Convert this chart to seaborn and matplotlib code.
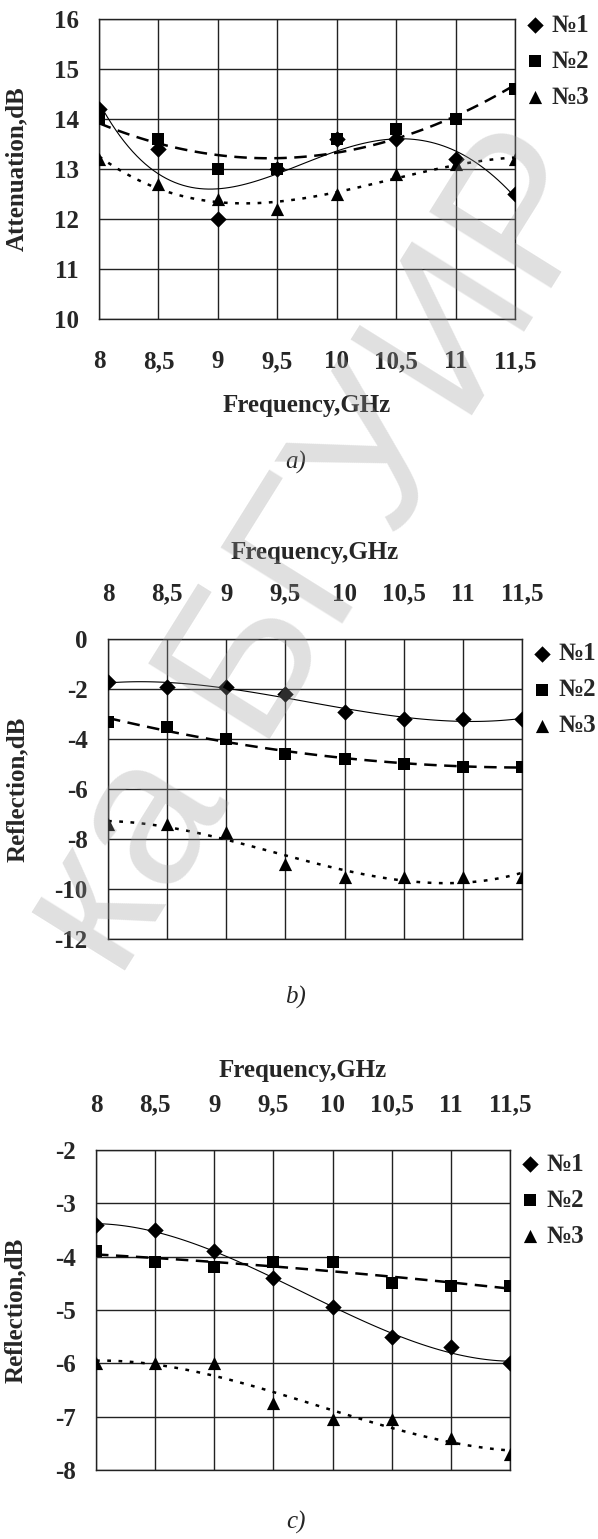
import seaborn as sns
import matplotlib.pyplot as plt

# частоты и подписи оси X
freq = [8, 8.5, 9, 9.5, 10, 10.5, 11, 11.5]
freq_labels = ['8', '8,5', '9', '9,5', '10', '10,5', '11', '11,5']
samples = ['№1', '№2', '№3']

# a) ослабление, дБ
att_1 = [14.2, 13.4, 12.0, 13.0, 13.6, 13.6, 13.2, 12.5]
att_2 = [14.0, 13.6, 13.0, 13.0, 13.6, 13.8, 14.0, 14.6]
att_3 = [13.2, 12.7, 12.4, 12.2, 12.5, 12.9, 13.1, 13.2]

# b) отражение, дБ
refl_b_1 = [-1.7, -1.9, -1.9, -2.2, -2.9, -3.2, -3.2, -3.2]
refl_b_2 = [-3.3, -3.5, -4.0, -4.6, -4.8, -5.0, -5.1, -5.1]
refl_b_3 = [-7.4, -7.4, -7.7, -9.0, -9.5, -9.5, -9.5, -9.5]

# c) отражение, дБ
refl_c_1 = [-3.4, -3.5, -3.9, -4.4, -4.95, -5.5, -5.7, -6.0]
refl_c_2 = [-3.9, -4.1, -4.2, -4.1, -4.1, -4.5, -4.55, -4.55]
refl_c_3 = [-6.0, -6.0, -6.0, -6.75, -7.05, -7.05, -7.4, -7.7]

sns.set_style('white')
plt.rcParams['font.family'] = ['Liberation Serif', 'DejaVu Serif']
plt.rcParams['font.weight'] = 'bold'

markers = ['D', 's', '^']
msizes = [70, 72, 90]
trend_ls = ['-', (0, (5, 3)), (0, (1.5, 3))]
trend_lw = [0.8, 1.8, 1.8]
FS = 18

fig = plt.figure(figsize=(5.98, 15.39), dpi=100)
W, H = 598, 1539


def make_axes(x0, x1, y0, y1):
    return fig.add_axes([x0 / W, 1 - y1 / H, (x1 - x0) / W, (y1 - y0) / H])


def panel(ax, series, orders, ylim, yticks, ylabel, top, leg_y):
    for vals, name, m, s, ls, lw, k in zip(series, samples, markers, msizes,
                                            trend_ls, trend_lw, orders):
        sns.regplot(x=freq, y=vals, order=k, ci=None, scatter=False, ax=ax,
                    color='black', line_kws=dict(linestyle=ls, linewidth=lw))
        sns.scatterplot(x=freq, y=vals, marker=m, s=s, color='black',
                        edgecolor='black', linewidth=0, ax=ax, label=name,
                        zorder=5)
    ax.set_xlim(freq[0], freq[-1])
    ax.set_ylim(*ylim)
    ax.set_xticks(freq)
    ax.set_xticklabels(freq_labels)
    ax.set_yticks(yticks)
    ax.set_yticklabels([str(t) for t in yticks])
    ax.grid(True, color='#222222', linewidth=1.0)
    for sp in ax.spines.values():
        sp.set_color('#222222')
        sp.set_linewidth(1.0)
    ax.tick_params(axis='y', length=6.5, width=1.0, color='#555555',
                   pad=8, labelsize=FS)
    if top:
        ax.xaxis.tick_top()
        ax.tick_params(axis='x', length=0, pad=24, labelsize=FS)
    else:
        ax.tick_params(axis='x', length=6.5, width=1.0, color='#555555',
                       pad=16, labelsize=FS)
    ax.set_xlabel('')
    ax.set_ylabel(ylabel, fontsize=FS, fontweight='bold')
    ax.legend(loc='upper left', bbox_to_anchor=(1.0, leg_y), frameon=False,
              fontsize=FS, handlelength=0.6, handletextpad=0.35,
              labelspacing=0.52, borderpad=0, borderaxespad=0.5)


# a)
ax1 = make_axes(99, 515, 19, 319)
panel(ax1, [att_1, att_2, att_3], [4, 2, 3], (10, 16), [10, 11, 12, 13, 14, 15, 16],
      'Attenuation,dB', False, 1.06)
ax1.yaxis.set_label_coords(-0.17, 0.5)
ax1.text(0.5, -0.287, 'Frequency,GHz', transform=ax1.transAxes, ha='center',
         va='center', fontsize=FS, fontweight='bold')
fig.text(296 / W, 1 - 462 / H, 'a)', ha='center', va='center', fontsize=FS,
         style='italic', fontweight='normal')

# b)
ax2 = make_axes(108, 522, 639, 939)
panel(ax2, [refl_b_1, refl_b_2, refl_b_3], [3, 2, 3], (-12, 0),
      [-12, -10, -8, -6, -4, -2, 0], 'Reflection,dB', True, 1.03)
ax2.yaxis.set_label_coords(-0.19, 0.5)
ax2.text(0.5, 1.29, 'Frequency,GHz', transform=ax2.transAxes, ha='center',
         va='center', fontsize=FS, fontweight='bold')
fig.text(296 / W, 1 - 997 / H, 'b)', ha='center', va='center', fontsize=FS,
         style='italic', fontweight='normal')

# c)
ax3 = make_axes(96, 510, 1150, 1470)
panel(ax3, [refl_c_1, refl_c_2, refl_c_3], [3, 2, 3], (-8, -2),
      [-8, -7, -6, -5, -4, -3, -2], 'Reflection,dB', True, 1.03)
ax3.yaxis.set_label_coords(-0.167, 0.5)
ax3.text(0.5, 1.25, 'Frequency,GHz', transform=ax3.transAxes, ha='center',
         va='center', fontsize=FS, fontweight='bold')
fig.text(296 / W, 1 - 1522 / H, 'c)', ha='center', va='center', fontsize=FS,
         style='italic', fontweight='normal')

# водяной знак
fig.text(322 / W, 1 - 555 / H, 'ка БГУИР', ha='center', va='center',
         rotation=58, fontsize=150, color='#9a9a9a', alpha=0.3,
         family='Liberation Sans', fontweight='normal', zorder=10)

fig.savefig('out.png', dpi=100)
